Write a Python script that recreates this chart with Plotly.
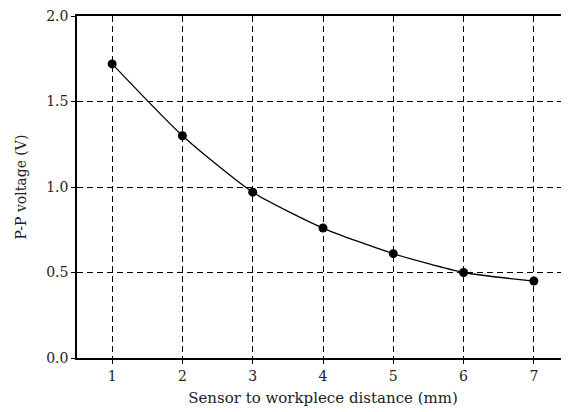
import plotly.graph_objects as go

# Sensor-to-workpiece distance vs peak-to-peak voltage
distance_mm = [1, 2, 3, 4, 5, 6, 7]
pp_voltage = [1.72, 1.30, 0.97, 0.76, 0.61, 0.50, 0.45]
x_ticks = [1, 2, 3, 4, 5, 6, 7]
y_ticks = [0.0, 0.5, 1.0, 1.5, 2.0]
y_tick_labels = ["0.0", "0.5", "1.0", "1.5", "2.0"]

FONT = "DejaVu Serif, Liberation Serif, serif"

fig = go.Figure()

fig.add_trace(go.Scatter(
    x=distance_mm,
    y=pp_voltage,
    mode="lines+markers",
    line=dict(color="black", width=1.3, shape="spline", smoothing=0.6),
    marker=dict(color="black", size=9),
    showlegend=False,
))

axis_common = dict(
    showline=True,
    linecolor="black",
    linewidth=1.5,
    showgrid=True,
    gridcolor="black",
    gridwidth=1,
    griddash="6px,4px",
    zeroline=False,
    ticks="outside",
    tickcolor="black",
    ticklen=4,
    automargin=False,
    ticklabeloverflow="allow",
    tickfont=dict(family=FONT, size=14, color="#222"),
)

fig.update_xaxes(
    **axis_common,
    range=[0.5, 7.5],
    tickvals=x_ticks,
    mirror=True,
    title=dict(text="Sensor to workplece distance (mm)",
               font=dict(family=FONT, size=15, color="#222"), standoff=10),
)
fig.update_yaxes(
    **axis_common,
    range=[0, 2.0],
    tickvals=y_ticks,
    ticktext=y_tick_labels,
    title=dict(text="P-P voltage (V)",
               font=dict(family=FONT, size=14, color="#222"), standoff=16),
)

# page body adds an 8px offset, so the figure is sized to compensate
fig.update_layout(
    width=561,
    height=404,
    margin=dict(l=69, r=0, t=8, b=54),
    plot_bgcolor="white",
    paper_bgcolor="white",
)

fig.write_html("out.html")
